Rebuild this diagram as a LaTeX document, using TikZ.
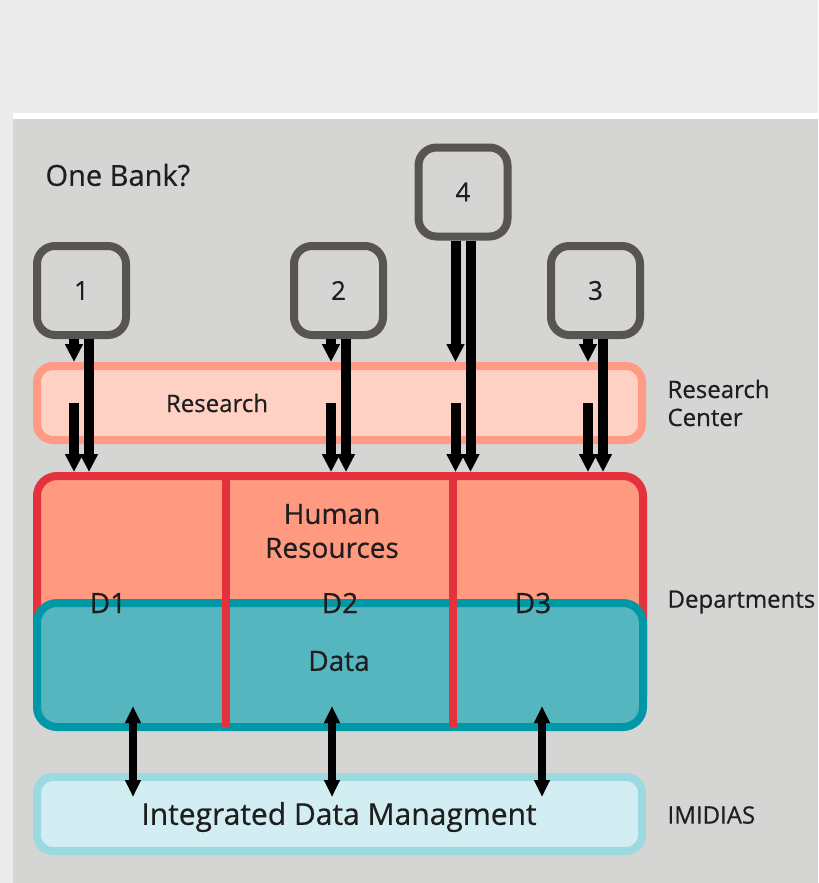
\documentclass[tikz,border=0pt]{standalone}
\usepackage{fontspec}
\setmainfont{Open Sans}[FakeBold=0.6]
\usepackage{tikz}
\usetikzlibrary{arrows.meta}

\definecolor{bandgray}{HTML}{EBEBEB}
\definecolor{bggray}{HTML}{D5D5D3}
\definecolor{boxgray}{HTML}{575452}
\definecolor{resfill}{HTML}{FFD1C4}
\definecolor{resline}{HTML}{FF9B84}
\definecolor{hrfill}{HTML}{FF9980}
\definecolor{hrline}{HTML}{E3323B}
\definecolor{datafill}{HTML}{56B6BF}
\definecolor{dataline}{HTML}{0097A6}
\definecolor{imfill}{HTML}{D3EEF2}
\definecolor{imline}{HTML}{9CD9E0}
\definecolor{ink}{HTML}{1E1E1E}

\begin{document}
\begin{tikzpicture}
            [
            x=1pt, y=-1pt,
            numbox/.style={draw=boxgray, fill=bggray, line width=8pt,
                rounded corners=18pt, minimum size=89pt, inner sep=0pt,
                text=ink, font=\fontsize{26}{30}\selectfont},
            layer/.style={line width=8pt, rounded corners=16pt, inner sep=0pt},
            side/.style={anchor=west, align=left, text=ink,
                font=\fontsize{24}{28}\selectfont},
            dept/.style={text=ink, font=\fontsize{28}{34}\selectfont},
            down/.style={line width=10pt, -{Triangle[width=17pt,length=18pt]}},
            both/.style={line width=8pt,
                {Triangle[width=15pt,length=17pt]}-{Triangle[width=15pt,length=17pt]}},
            ]
            % Background
            \fill[bandgray] (0,0) rectangle (818,883);
            \fill[white] (13,113) rectangle (818,119);
            \fill[bggray] (13,119) rectangle (818,883);

            \node[anchor=west, text=ink, font=\fontsize{29}{34}\selectfont]
                (title) at (42,175) {One Bank?};

            % Layers
            \node[layer, draw=resline, fill=resfill, minimum width=605pt,
                minimum height=74pt] (research) at (339.5,403) {};
            \node[layer, draw=hrline, fill=hrfill, rounded corners=20pt,
                minimum width=606pt, minimum height=240pt] (hr) at (340,596) {};
            \node[layer, draw=dataline, fill=datafill, rounded corners=20pt,
                minimum width=606pt, minimum height=124pt] (data) at (340,665) {};
            \node[layer, draw=imline, fill=imfill, minimum width=605pt,
                minimum height=74pt] (imds) at (339.5,814) {};

            % Dividers
            \draw[hrline, line width=8pt] (225.5,476) -- (225.5,727);
            \draw[hrline, line width=8pt] (453,476) -- (453,727);

            % Texts in the layers
            \node[side, anchor=center] (reslabel) at (217,403) {Research};
            \node[dept, align=center] (hrlabel) at (332,531) {Human\\Resources};
            \node[dept] (d1) at (108,603) {D1};
            \node[dept] (d2) at (340,603) {D2};
            \node[dept] (d3) at (533,603) {D3};
            \node[dept] (datalabel) at (339,661) {Data};
            \node[text=ink, font=\fontsize{30}{36}\selectfont]
                (imlabel) at (339,817) {Integrated Data Managment};

            % Legend
            \node[side] (lres) at (664,403) {Research\\Center};
            \node[side] (ldep) at (664,602) {Departments};
            \node[side] (lim) at (664,815) {IMIDIAS};

            % Numbered boxes
            \node[numbox] (b1) at (81.5,290.5) {1};
            \node[numbox] (b2) at (338.5,290.5) {2};
            \node[numbox] (b3) at (595.5,290.5) {3};
            \node[numbox] (b4) at (463,192) {4};

            % Arrows down
            \foreach \b in {b1,b2,b3,b4}{
                \draw[down] ([xshift=-7.5pt]\b.south) -- ([xshift=-7.5pt]\b.south |- research.north);
                \draw[down] ([xshift=-7.5pt]\b.south |- research.center) -- ([xshift=-7.5pt]\b.south |- hr.north);
                \draw[down] ([xshift=7.5pt]\b.south) -- ([xshift=7.5pt]\b.south |- hr.north);
            }

            % Data exchange
            \foreach \d in {-207,-8,202}
                \draw[both, shorten <=-25pt, shorten >=-24pt]
                    ([xshift=\d pt]data.south) -- ([xshift=\d pt]data.south |- imds.north);
        \end{tikzpicture}
\end{document}
